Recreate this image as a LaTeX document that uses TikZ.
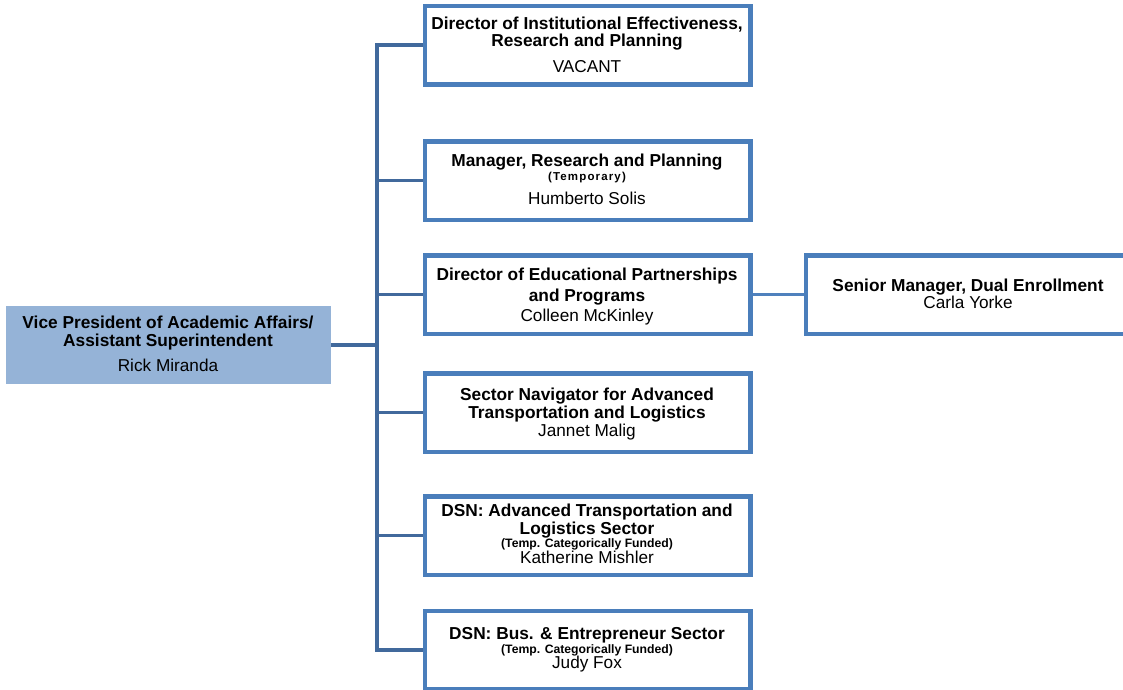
\documentclass[tikz,border=0pt]{standalone}
\usepackage{fontspec}
\setmainfont{Liberation Sans}
\definecolor{trunkblue}{HTML}{41699C}
\definecolor{edgeblue}{HTML}{4A7EBB}
\definecolor{linkblue}{HTML}{4F81BD}
\definecolor{headfill}{HTML}{95B3D7}
\tikzset{
  post/.style={rectangle, draw=edgeblue, line width=3pt, fill=white,
    minimum width=324pt, minimum height=77pt, inner sep=0pt},
  head/.style={rectangle, fill=headfill, minimum width=325pt,
    minimum height=78pt, inner sep=0pt},
  trunk/.style={draw=trunkblue, line width=3.7pt},
  link/.style={draw=linkblue, line width=2.8pt},
  title/.style={anchor=base, inner sep=0pt, font=\fontsize{17.3}{17}\selectfont\bfseries},
  holder/.style={anchor=base, inner sep=0pt, font=\fontsize{17.2}{17}\selectfont},
  remark/.style={anchor=base, inner sep=0pt, font=\fontsize{12.2}{12}\selectfont\bfseries},
}
\begin{document}
\begin{tikzpicture}[x=1pt, y=-1pt]
  \clip (0,0) rectangle (1123,689);
  \fill[white] (0,0) rectangle (1123,689);

  % head of the division
  \node[head] (vp) at (168.5,345) {};

  % posts reporting to the vice president
  \node[post] (b1) at (587.5,45) {};
  \node[post] (b2) at (587.5,180.5) {};
  \node[post] (b3) at (587.5,294.5) {};
  \node[post] (b4) at (587.5,412.5) {};
  \node[post] (b5) at (587.5,535.5) {};
  \node[post] (b6) at (587.5,650) {};
  \node[post] (rb) at (968.5,294.5) {};

  % reporting lines
  \coordinate (spine) at (377,0);
  \foreach \b in {b1,b2,b3,b4,b5,b6}
    \draw[trunk] (vp.east) -- (vp.east -| spine) |- ([xshift=-1.5pt]\b.west);
  \draw[link] (b3.east) -- (rb.west);

  % redraw the frames over the line ends
  \foreach \b in {b1,b2,b3,b4,b5,b6,rb}
    \draw[edgeblue, line width=3pt] (\b.south west) rectangle (\b.north east);

  % texts
  \node[title]  (vpa) at (168,328.3) {Vice President of Academic Affairs/};
  \node[title]  (vpb) at (168,346)   {Assistant Superintendent};
  \node[holder] (vpc) at (168,371)   {Rick Miranda};

  \node[title]  (b1a) at (587,29)   {Director of Institutional Effectiveness,};
  \node[title]  (b1b) at (587,46.5) {Research and Planning};
  \node[holder] (b1c) at (587,72.5) {VACANT};

  \node[title]  (b2a) at (587,166) {Manager, Research and Planning};
  \node[remark, font=\fontsize{11.5}{12}\selectfont\bfseries\addfontfeature{LetterSpace=10}]
                (b2b) at (587,180) {(Temporary)};
  \node[holder] (b2c) at (587,204) {Humberto Solis};

  \node[title]  (b3a) at (587,280.7) {Director of Educational Partnerships};
  \node[title]  (b3b) at (587,301.7) {and Programs};
  \node[holder] (b3c) at (587,321.7) {Colleen McKinley};

  \node[title]  (b4a) at (587,400.3) {Sector Navigator for Advanced};
  \node[title]  (b4b) at (587,418)   {Transportation and Logistics};
  \node[holder] (b4c) at (587,436)   {Jannet Malig};

  \node[title]  (b5a) at (587,516.7) {DSN: Advanced Transportation and};
  \node[title]  (b5b) at (587,534)   {Logistics Sector};
  \node[remark] (b5c) at (587,547.7) {(Temp. Categorically Funded)};
  \node[holder] (b5d) at (587,563.3) {Katherine Mishler};

  \node[title]  (b6a) at (587,639.3) {DSN: Bus. \& Entrepreneur Sector};
  \node[remark] (b6b) at (587,653.3) {(Temp. Categorically Funded)};
  \node[holder] (b6c) at (587,668.3) {Judy Fox};

  \node[title]  (rba) at (968,291.7) {Senior Manager, Dual Enrollment};
  \node[holder] (rbb) at (968,308.3) {Carla Yorke};
\end{tikzpicture}
\end{document}
